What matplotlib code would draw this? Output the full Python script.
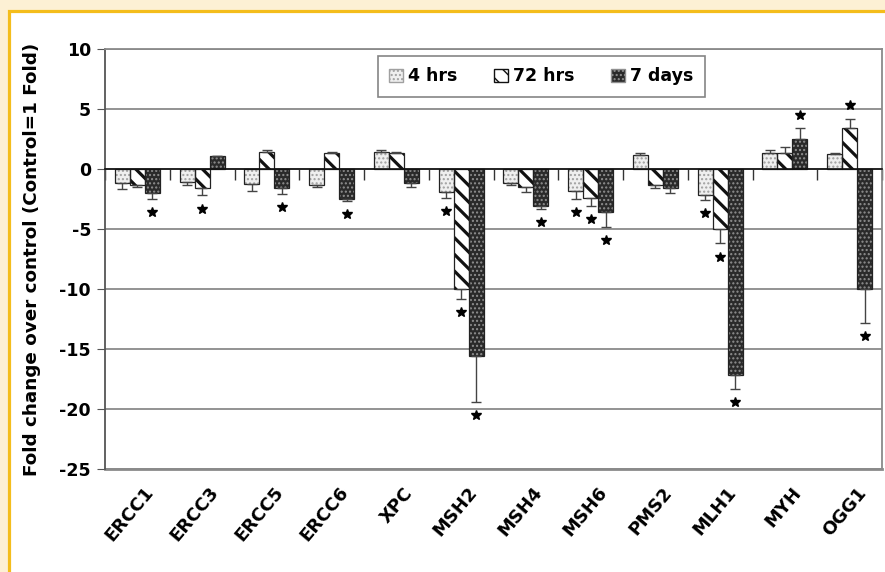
import numpy as np
import matplotlib
matplotlib.use('Agg')
import matplotlib.pyplot as plt
from matplotlib.patches import Rectangle, Patch

genes = ['ERCC1', 'ERCC3', 'ERCC5', 'ERCC6', 'XPC', 'MSH2', 'MSH4', 'MSH6', 'PMS2', 'MLH1', 'MYH', 'OGG1']
series = ['4 hrs', '72 hrs', '7 days']

hrs4 = [-1.2, -1.1, -1.25, -1.3, 1.4, -1.9, -1.2, -1.8, 1.15, -2.2, 1.3, 1.25]
hrs4_err = [0.5, 0.2, 0.55, 0.2, 0.2, 0.5, 0.15, 0.7, 0.15, 0.4, 0.3, 0.05]
hrs72 = [-1.3, -1.6, 1.45, 1.35, 1.3, -10.0, -1.5, -2.4, -1.35, -5.0, 1.35, 3.4]
hrs72_err = [0.2, 0.6, 0.15, 0.1, 0.1, 0.8, 0.4, 0.7, 0.2, 1.2, 0.45, 0.8]
days7 = [-2.0, 1.1, -1.6, -2.5, -1.2, -15.6, -3.1, -3.6, -1.6, -17.2, 2.5, -10.0]
days7_err = [0.5, 0.0, 0.5, 0.15, 0.3, 3.8, 0.2, 1.2, 0.4, 1.1, 0.9, 2.8]

# significance flags (p < 0.05) per time point
sig4 = [0, 0, 0, 0, 0, 1, 0, 1, 0, 1, 0, 0]
sig72 = [0, 1, 0, 0, 0, 1, 0, 1, 0, 1, 0, 1]
sig7 = [1, 0, 1, 1, 0, 1, 1, 1, 0, 1, 1, 1]

plt.rcParams['font.family'] = 'DejaVu Sans'
plt.rcParams['font.weight'] = 'bold'

fig = plt.figure(figsize=(8.85, 5.72), dpi=100)
fig.patch.set_facecolor('#fdf0d4')
W, H = 885.0, 572.0
fig.patches.append(Rectangle((8.5 / W, -0.05), 1.0, (H - 10.5) / H + 0.05, transform=fig.transFigure,
                             facecolor='white', edgecolor='#f4bd1c', linewidth=2.3, zorder=-10))

ax = fig.add_axes([105 / W, (H - 469) / H, (882 - 105) / W, 420 / H])
ax.set_facecolor('white')

styles = [
    dict(face='#efefef', hatch='....', hcol='#a0a0a0', hlw=1.0),
    dict(face='white', hatch='\\\\', hcol='#111111', hlw=2.3),
    dict(face='#2a2a2a', hatch='....', hcol='#909090', hlw=1.0),
]

x = np.arange(len(genes))
w = 0.232
values = [hrs4, hrs72, days7]
errs = [hrs4_err, hrs72_err, days7_err]
sigs = [sig4, sig72, sig7]


def hatched_bars(xpos, vals, st, width):
    with plt.rc_context({'hatch.linewidth': st['hlw'], 'hatch.color': st['hcol']}):
        bars = ax.bar(xpos, vals, width, color=st['face'], edgecolor=st['hcol'],
                      hatch=st['hatch'], linewidth=0, zorder=3)
        for b in bars:
            if hasattr(b, 'set_hatch_linewidth'):
                b.set_hatch_linewidth(st['hlw'])
    ax.bar(xpos, vals, width, fill=False, edgecolor='#222222', linewidth=0.9, zorder=4)
    return bars


for i in range(3):
    xpos = x + (i - 1) * w
    vals = np.array(values[i])
    e = np.array(errs[i])
    hatched_bars(xpos, vals, styles[i], w)
    lower = np.where(vals < 0, e, 0)
    upper = np.where(vals >= 0, e, 0)
    ax.errorbar(xpos, vals, yerr=[lower, upper], fmt='none', ecolor='#444444',
                elinewidth=1.0, capsize=3.5, capthick=1.0, zorder=5)
    for j in range(len(genes)):
        if sigs[i][j]:
            end = vals[j] + np.sign(vals[j]) * e[j]
            ys = end + np.sign(vals[j]) * 1.1
            ax.plot(xpos[j], ys, marker='*', color='black', markersize=7.5, zorder=6)

ax.set_xlim(-0.5, len(genes) - 0.5)
ax.set_ylim(-25, 10)
ax.set_yticks(np.arange(-25, 11, 5))
ax.set_yticklabels([str(v) for v in range(-25, 11, 5)], fontsize=12.5, fontweight='bold')
ax.yaxis.grid(True, color='#8a8a8a', linewidth=1.3, zorder=0)
ax.set_axisbelow(True)
ax.tick_params(axis='y', direction='out', length=6, color='#555555', pad=4)

# category axis drawn through zero
ax.spines['bottom'].set_position(('data', 0))
ax.spines['bottom'].set_color('#111111')
ax.spines['bottom'].set_linewidth(1.2)
ax.spines['bottom'].set_zorder(7)
ax.set_xticks(np.arange(len(genes) + 1) - 0.5)
ax.set_xticklabels([])
ax.tick_params(axis='x', direction='out', length=8, color='#333333', width=1.0)
for s in ['top', 'right']:
    ax.spines[s].set_color('#8a8a8a')
    ax.spines[s].set_linewidth(1.3)
ax.spines['left'].set_color('#555555')
ax.spines['left'].set_linewidth(1.3)
ax.axhline(-25, color='#8a8a8a', linewidth=2.0, clip_on=False, zorder=2)

for j, g in enumerate(genes):
    ax.text(j + 0.1, -0.035, g, transform=ax.get_xaxis_transform(), rotation=50,
            ha='right', va='top', rotation_mode='anchor', fontsize=13, fontweight='bold')

ax.set_ylabel('Fold change over control (Control=1 Fold)', fontsize=13.2, fontweight='bold', labelpad=13)

handles = [Patch(facecolor=st['face'], edgecolor=st['hcol'], hatch=st['hatch']) for st in styles]
leg = fig.legend(handles, series, loc='upper left', bbox_to_anchor=(378 / W, 1 - 56 / H),
                 ncol=3, frameon=True, fancybox=False, edgecolor='#666666',
                 prop={'weight': 'bold', 'size': 12.5}, handlelength=0.8, handleheight=0.8,
                 handletextpad=0.3, columnspacing=2.1, borderpad=0.65, borderaxespad=0)
leg.get_frame().set_linewidth(1.2)

fig.savefig('out.png', dpi=100, facecolor=fig.get_facecolor())
